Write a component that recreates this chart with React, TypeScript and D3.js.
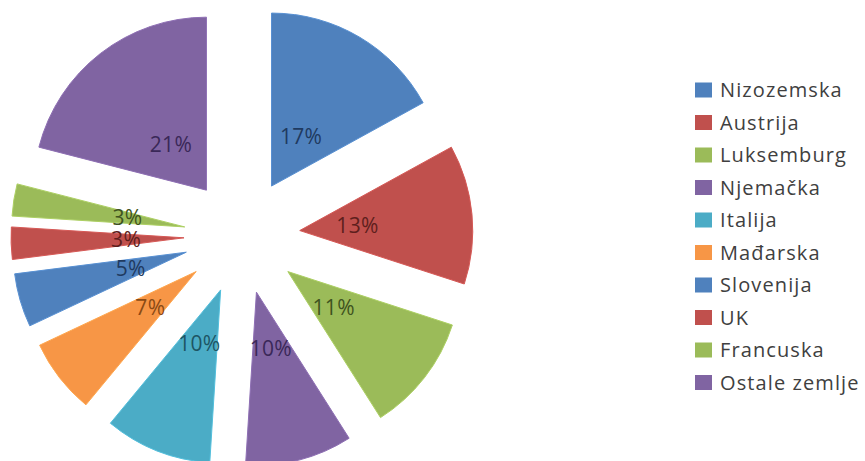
import React from "react";
import * as d3 from "d3";

const categories = ["Nizozemska", "Austrija", "Luksemburg", "Njemačka", "Italija", "Mađarska", "Slovenija", "UK", "Francuska", "Ostale zemlje"];
const values = [17, 13, 11, 10, 10, 7, 5, 3, 3, 21];
const colors = ["#4F81BD", "#C0504D", "#9BBB59", "#8064A2", "#4BACC6", "#F79646", "#4F81BD", "#C0504D", "#9BBB59", "#8064A2"];
const labelColors = ["#1F3A60", "#5E1F1D", "#3F5320", "#3A2858", "#1D5564", "#8A4A14", "#1F3A60", "#5E1F1D", "#3F5320", "#3A2858"];

const W = 865, H = 461;
const cx = 242, cy = 236;
const R = 173;
const explode = 58;
const labelDist = 116;

export default function App() {
  const total = d3.sum(values);
  const pie = d3.pie<number>().sort(null).value((d) => d);
  const arcs = pie(values);
  const arc = d3.arc<d3.PieArcDatum<number>>().innerRadius(0).outerRadius(R);

  const legendY = d3.scalePoint<string>().domain(categories).range([90, 382.5]);

  return (
    <svg width={W} height={H} style={{ position: "absolute", left: 0, top: 0, background: "#fff" }}>
      <g transform={`translate(${cx},${cy})`}>
        {arcs.map((a, i) => {
          const mid = (a.startAngle + a.endAngle) / 2;
          const dx = Math.sin(mid) * explode;
          const dy = -Math.cos(mid) * explode;
          return (
            <path key={i} d={arc(a) || ""} transform={`translate(${dx},${dy})`} fill={colors[i]} stroke={d3.color(colors[i])!.brighter(0.3).toString()} strokeWidth={1} />
          );
        })}
        {arcs.map((a, i) => {
          const mid = (a.startAngle + a.endAngle) / 2;
          const x = Math.sin(mid) * labelDist;
          const y = -Math.cos(mid) * labelDist;
          return (
            <text key={i} x={x} y={y} dy="0.36em" textAnchor="middle" fontFamily="Open Sans, sans-serif" fontSize={21} letterSpacing={0.3} fill={labelColors[i]}>
              {Math.round((values[i] / total) * 100)}%
            </text>
          );
        })}
      </g>
      <g>
        {categories.map((c, i) => (
          <g key={c} transform={`translate(0,${legendY(c)})`}>
            <rect x={695} y={-7.5} width={17} height={15} fill={colors[i]} />
            <text x={720} y={0} dy="0.36em" fontFamily="Open Sans, sans-serif" fontSize={20} letterSpacing={1.1} fill="#404040">{c}</text>
          </g>
        ))}
      </g>
    </svg>
  );
}
